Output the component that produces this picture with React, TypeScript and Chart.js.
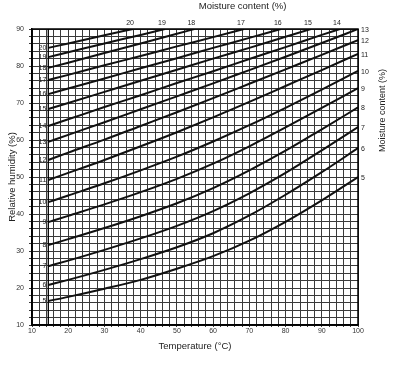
import React, { useEffect, useRef } from 'react';
import { Chart, registerables } from 'chart.js';

Chart.register(...registerables);

// Temperatures (°C) at which the moisture-content curves are read
const temps = [14.5, 20, 30, 40, 50, 60, 70, 80, 90, 100];

// Relative humidity (%) for each moisture-content curve
const mc5 = [16.5, 17.6, 19.8, 22.2, 25.2, 28.6, 32.8, 37.9, 43.7, 50.0];
const mc6 = [20.8, 22.2, 24.9, 27.8, 31.0, 34.8, 39.6, 45.2, 51.3, 57.8];
const mc7 = [25.9, 27.4, 30.3, 33.4, 36.8, 40.8, 45.6, 51.1, 57.2, 63.5];
const mc8 = [31.6, 33.2, 36.2, 39.4, 42.9, 47.0, 51.8, 57.1, 62.9, 68.8];
const mc9 = [37.8, 39.5, 42.6, 45.9, 49.5, 53.6, 58.3, 63.4, 68.7, 74.0];
const mc10 = [43.2, 45.0, 48.3, 51.8, 55.5, 59.6, 64.0, 68.7, 73.6, 78.7];
const mc11 = [49.2, 51.1, 54.6, 58.3, 62.1, 66.1, 70.3, 74.6, 78.9, 83.3];
const mc12 = [54.6, 56.6, 60.1, 63.8, 67.5, 71.3, 75.2, 79.1, 83.0, 87.0];
const mc13 = [59.5, 61.4, 64.8, 68.3, 71.8, 75.3, 78.9, 82.5, 86.2, 90.0];
const mc14 = [63.8, 65.6, 68.9, 72.1, 75.4, 78.6, 81.9, 85.1, 88.4];
const mc15 = [68.4, 70.0, 73.0, 76.0, 79.0, 82.0, 84.9, 87.9];
const mc16 = [72.4, 73.9, 76.6, 79.4, 82.1, 84.9, 87.6];
const mc17 = [76.2, 77.6, 80.2, 82.7, 85.3, 87.8];
const mc18 = [79.5, 80.9, 83.5, 86.1, 88.7];
const mc19 = [82.4, 83.7, 86.1, 88.4];
const mc20 = [84.9, 86.1, 88.3];

// Moisture content levels (%) and the temperature where curves 14–20 leave the top (RH 90%)
const levels = [5, 6, 7, 8, 9, 10, 11, 12, 13, 14, 15, 16, 17, 18, 19, 20];
const curveValues = [mc5, mc6, mc7, mc8, mc9, mc10, mc11, mc12, mc13, mc14, mc15, mc16, mc17, mc18, mc19, mc20];
const topExitLevels = [14, 15, 16, 17, 18, 19, 20];
const topExitTemps = [95, 87, 78.7, 68.5, 54.8, 46.7, 37.9];

const xMin = 10, xMax = 100, yMin = 10, yMax = 90;

const FONT = '"Liberation Sans", Arial, Helvetica, sans-serif';

function buildPoints() {
  return curveValues.map((arr, i) => {
    const pts = arr.map((v, j) => ({ x: temps[j], y: v }));
    const k = topExitLevels.indexOf(levels[i]);
    if (k >= 0) pts.push({ x: topExitTemps[k], y: yMax });
    return pts;
  });
}

export default function App() {
  const ref = useRef<HTMLCanvasElement | null>(null);

  useEffect(() => {
    document.body.style.margin = '0';
    const canvas = ref.current!;
    const points = buildPoints();

    const labelPlugin = {
      id: 'labels',
      afterDatasetsDraw(chart: any) {
        const ctx = chart.ctx;
        const xs = chart.scales.x;
        const ys = chart.scales.y;
        const a = chart.chartArea;
        ctx.save();
        // frame
        ctx.strokeStyle = '#000';
        ctx.lineWidth = 1.5;
        ctx.strokeRect(a.left, a.top, a.right - a.left, a.bottom - a.top);
        // start line
        const sx = xs.getPixelForValue(temps[0]);
        ctx.lineWidth = 1.3;
        ctx.beginPath();
        ctx.moveTo(sx, a.top);
        ctx.lineTo(sx, a.bottom);
        ctx.stroke();

        ctx.fillStyle = '#222';
        ctx.font = '7px ' + FONT;
        points.forEach((pts, i) => {
          const lv = String(levels[i]);
          const p0 = pts[0];
          ctx.textAlign = 'right';
          ctx.textBaseline = 'middle';
          ctx.fillText(lv, xs.getPixelForValue(p0.x) - 2, ys.getPixelForValue(p0.y));
          const pe = pts[pts.length - 1];
          if (topExitLevels.indexOf(levels[i]) < 0) {
            ctx.textAlign = 'left';
            ctx.textBaseline = 'middle';
            ctx.fillText(lv, a.right + 3, ys.getPixelForValue(pe.y) + 1);
          } else {
            ctx.textAlign = 'center';
            ctx.textBaseline = 'bottom';
            ctx.fillText(lv, xs.getPixelForValue(pe.x) - 3, a.top - 2);
          }
        });

        // titles
        ctx.fillStyle = '#222';
        ctx.font = '9.5px ' + FONT;
        ctx.textAlign = 'center';
        ctx.textBaseline = 'middle';
        ctx.fillText('Temperature (°C)', (a.left + a.right) / 2, 346);
        ctx.fillText('Moisture content (%)', a.left + 0.646 * (a.right - a.left), 6);

        ctx.save();
        ctx.translate(12, (a.top + a.bottom) / 2);
        ctx.rotate(-Math.PI / 2);
        ctx.fillText('Relative humidity (%)', 0, 0);
        ctx.restore();

        ctx.save();
        ctx.font = '9px ' + FONT;
        ctx.translate(a.right + 25, a.top + 0.275 * (a.bottom - a.top));
        ctx.rotate(-Math.PI / 2);
        ctx.fillText('Moisture content (%)', 0, 0);
        ctx.restore();

        ctx.restore();
      },
    };

    const chart = new Chart(canvas, {
      type: 'scatter',
      data: {
        datasets: points.map((pts, i) => ({
          label: 'MC ' + levels[i] + '%',
          data: pts,
          showLine: true,
          borderColor: '#111',
          backgroundColor: '#111',
          borderWidth: 2,
          pointRadius: 0,
          cubicInterpolationMode: 'monotone',
        })),
      },
      options: {
        responsive: false,
        animation: false,
        layout: { padding: { top: 29, right: 59, left: 0, bottom: 0 } },
        plugins: {
          legend: { display: false },
          tooltip: { enabled: false },
        },
        scales: {
          x: {
            type: 'linear',
            min: xMin,
            max: xMax,
            afterFit: (s: any) => { s.height = 41; },
            ticks: {
              stepSize: 2,
              autoSkip: false,
              maxRotation: 0,
              padding: 0,
              color: '#333',
              font: { size: 7, family: FONT },
              callback: (v: any) => (Number(v) % 10 === 0 ? String(v) : ''),
            },
            grid: { color: '#3a3a3a', lineWidth: 1, tickLength: 2 },
            border: { color: '#000', width: 1.5 },
          },
          y: {
            type: 'linear',
            min: yMin,
            max: yMax,
            afterFit: (s: any) => { s.width = 32; },
            ticks: {
              stepSize: 2,
              autoSkip: false,
              padding: 5,
              color: '#333',
              font: { size: 7, family: FONT },
              callback: (v: any) => (Number(v) % 10 === 0 ? String(v) : ''),
            },
            grid: { color: '#3a3a3a', lineWidth: 1, tickLength: 3 },
            border: { color: '#000', width: 1.5 },
          },
        },
      },
      plugins: [labelPlugin],
    } as any);

    return () => chart.destroy();
  }, []);

  return (
    <div style={{ width: 417, height: 366, background: '#fff' }}>
      <canvas ref={ref} width={417} height={366} style={{ display: 'block' }} />
    </div>
  );
}
